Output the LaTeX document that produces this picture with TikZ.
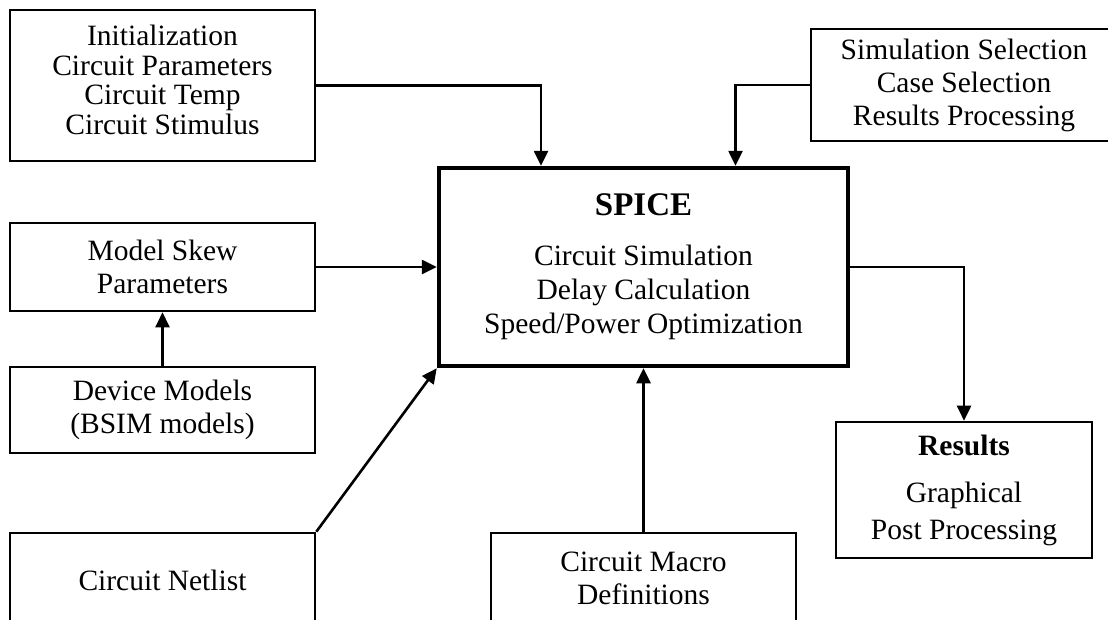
\documentclass[tikz,border=0pt]{standalone}
\usepackage{fontspec}
\setmainfont{Liberation Serif}
\usetikzlibrary{arrows.meta,calc}
\begin{document}
\begin{tikzpicture}[x=1pt,y=-1pt,
  box/.style={draw,line width=2.6pt,inner sep=0pt,align=center,
    font=\fontsize{29.5}{33}\selectfont},
  mainbox/.style={box,line width=4.5pt},
  arr/.style={line width=2.6pt,-{Triangle[length=15pt,width=14pt]}}]
\useasboundingbox (0,0) rectangle (1108,619);
\clip (0,0) rectangle (1108,619);

% input boxes on the left
\node[box,minimum width=305pt,minimum height=151pt,
  font=\fontsize{29.5}{29.5}\selectfont] (init) at (162.5,85.5)
  {Initialization\\Circuit Parameters\\Circuit Temp\\Circuit Stimulus\\[-18.5pt]};
\node[box,minimum width=305pt,minimum height=88pt] (skew) at (162.5,267)
  {Model Skew\\Parameters};
\node[box,minimum width=305pt,minimum height=86pt] (device) at (162.5,410)
  {Device Models\\(BSIM models)};
\node[box,minimum width=305pt,minimum height=94pt] (netlist) at (162.5,580)
  {Circuit Netlist};

% control box on the top right
\node[box,minimum width=306pt,minimum height=112pt] (sim) at (964,85)
  {Simulation Selection\\Case Selection\\Results Processing};

% simulator
\node[mainbox,minimum width=409pt,minimum height=198pt,
  font=\fontsize{29.5}{34}\selectfont] (spice) at (643.5,267)
  {{\fontsize{33}{34}\selectfont\bfseries SPICE}\\[16pt]
   Circuit Simulation\\Delay Calculation\\Speed/Power Optimization};

% macro definitions below
\node[box,minimum width=305pt,minimum height=90pt] (macro) at (643.5,578)
  {Circuit Macro\\Definitions};

% output
\node[box,minimum width=256pt,minimum height=136pt,
  font=\fontsize{29.5}{37}\selectfont] (results) at (964,490)
  {\textbf{Results}\\[10pt]Graphical\\Post Processing};

% connectors
\draw[arr] (init.east) -| ([xshift=-102.5pt]spice.north);
\draw[arr] (sim.west) -| ([xshift=92pt]spice.north);
\draw[arr] (skew.east) -- (skew.east -| spice.west);
\draw[arr] (device.north) -- (skew.south);
\draw[arr] (netlist.north east) -- (spice.south west);
\draw[arr] (macro.north) -- (spice.south);
\draw[arr] (spice.east) -| (results.north);
\end{tikzpicture}
\end{document}
